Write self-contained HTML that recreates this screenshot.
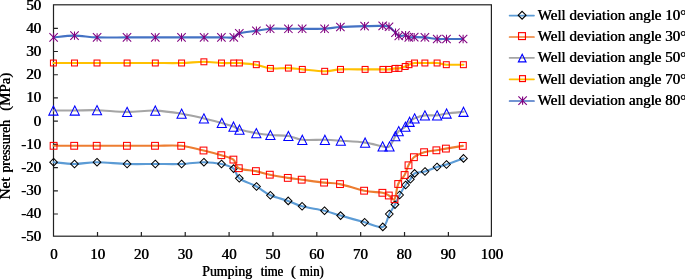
<!DOCTYPE html>
<html><head><meta charset="utf-8"><title>Net pressure chart</title>
<style>html,body{margin:0;padding:0;background:#fff}body{width:685px;height:279px;overflow:hidden}</style></head>
<body>
<svg width="685" height="279" viewBox="0 0 685 279" style="display:block">
<rect width="685" height="279" fill="#fff"/>
<g stroke="#222" stroke-width="1.2" fill="none">
<rect x="53.5" y="4.8" width="437.9" height="231.4"/>
<path d="M53.5,28.31 h4.4 M53.5,51.52 h4.4 M53.5,74.73 h4.4 M53.5,97.94 h4.4 M53.5,121.15 h4.4 M53.5,144.36 h4.4 M53.5,167.57 h4.4 M53.5,190.78 h4.4 M53.5,213.99 h4.4 M97.51,236.2 v-4.1 M141.37,236.2 v-4.1 M185.23,236.2 v-4.1 M229.09,236.2 v-4.1 M272.95,236.2 v-4.1 M316.81,236.2 v-4.1 M360.67,236.2 v-4.1 M404.53,236.2 v-4.1 M448.39,236.2 v-4.1"/>
</g>
<path d="M53.60,162.20 C57.08,162.50 67.27,164.00 74.50,164.00 C81.73,164.00 88.23,162.20 97.00,162.20 C105.77,162.20 117.38,163.70 127.10,164.00 C136.82,164.30 146.22,164.00 155.30,164.00 C164.38,164.00 173.50,164.30 181.60,164.00 C189.70,163.70 197.25,162.20 203.90,162.20 C210.55,162.20 216.55,162.93 221.50,164.00 C226.45,165.07 230.63,166.22 233.60,168.60 C236.57,170.98 235.48,175.32 239.30,178.30 C243.12,181.28 251.32,183.67 256.50,186.50 C261.68,189.33 265.12,192.90 270.40,195.30 C275.68,197.70 282.92,199.07 288.20,200.90 C293.48,202.73 296.05,204.67 302.10,206.30 C308.15,207.93 318.08,209.15 324.50,210.70 C330.92,212.25 333.90,213.67 340.60,215.60 C347.30,217.53 357.67,220.42 364.70,222.30 C371.73,224.18 378.70,228.28 382.80,226.90 C386.90,225.52 387.27,217.72 389.30,214.00 C391.33,210.28 393.28,207.77 395.00,204.60 C396.72,201.43 397.83,198.27 399.60,195.00 C401.37,191.73 403.80,187.62 405.60,185.00 C407.40,182.38 408.90,181.23 410.40,179.30 C411.90,177.37 412.17,174.70 414.60,173.40 C417.03,172.10 421.27,172.57 425.00,171.50 C428.73,170.43 433.42,168.17 437.00,167.00 C440.58,165.83 442.08,165.93 446.50,164.50 C450.92,163.07 460.67,159.42 463.50,158.40" fill="none" stroke="#5B9BD5" stroke-width="2.10" stroke-linejoin="round" stroke-linecap="round"/>
<g fill="none" stroke="#000" stroke-width="1.05">
<path d="M53.60,158.40 l3.80,3.80 l-3.80,3.80 l-3.80,-3.80 z"/>
<path d="M74.50,160.20 l3.80,3.80 l-3.80,3.80 l-3.80,-3.80 z"/>
<path d="M97.00,158.40 l3.80,3.80 l-3.80,3.80 l-3.80,-3.80 z"/>
<path d="M127.10,160.20 l3.80,3.80 l-3.80,3.80 l-3.80,-3.80 z"/>
<path d="M155.30,160.20 l3.80,3.80 l-3.80,3.80 l-3.80,-3.80 z"/>
<path d="M181.60,160.20 l3.80,3.80 l-3.80,3.80 l-3.80,-3.80 z"/>
<path d="M203.90,158.40 l3.80,3.80 l-3.80,3.80 l-3.80,-3.80 z"/>
<path d="M221.50,160.20 l3.80,3.80 l-3.80,3.80 l-3.80,-3.80 z"/>
<path d="M233.60,164.80 l3.80,3.80 l-3.80,3.80 l-3.80,-3.80 z"/>
<path d="M239.30,174.50 l3.80,3.80 l-3.80,3.80 l-3.80,-3.80 z"/>
<path d="M256.50,182.70 l3.80,3.80 l-3.80,3.80 l-3.80,-3.80 z"/>
<path d="M270.40,191.50 l3.80,3.80 l-3.80,3.80 l-3.80,-3.80 z"/>
<path d="M288.20,197.10 l3.80,3.80 l-3.80,3.80 l-3.80,-3.80 z"/>
<path d="M302.10,202.50 l3.80,3.80 l-3.80,3.80 l-3.80,-3.80 z"/>
<path d="M324.50,206.90 l3.80,3.80 l-3.80,3.80 l-3.80,-3.80 z"/>
<path d="M340.60,211.80 l3.80,3.80 l-3.80,3.80 l-3.80,-3.80 z"/>
<path d="M364.70,218.50 l3.80,3.80 l-3.80,3.80 l-3.80,-3.80 z"/>
<path d="M382.80,223.10 l3.80,3.80 l-3.80,3.80 l-3.80,-3.80 z"/>
<path d="M389.30,210.20 l3.80,3.80 l-3.80,3.80 l-3.80,-3.80 z"/>
<path d="M395.00,200.80 l3.80,3.80 l-3.80,3.80 l-3.80,-3.80 z"/>
<path d="M399.60,191.20 l3.80,3.80 l-3.80,3.80 l-3.80,-3.80 z"/>
<path d="M405.60,181.20 l3.80,3.80 l-3.80,3.80 l-3.80,-3.80 z"/>
<path d="M410.40,175.50 l3.80,3.80 l-3.80,3.80 l-3.80,-3.80 z"/>
<path d="M414.60,169.60 l3.80,3.80 l-3.80,3.80 l-3.80,-3.80 z"/>
<path d="M425.00,167.70 l3.80,3.80 l-3.80,3.80 l-3.80,-3.80 z"/>
<path d="M437.00,163.20 l3.80,3.80 l-3.80,3.80 l-3.80,-3.80 z"/>
<path d="M446.50,160.70 l3.80,3.80 l-3.80,3.80 l-3.80,-3.80 z"/>
<path d="M463.50,154.60 l3.80,3.80 l-3.80,3.80 l-3.80,-3.80 z"/>
</g>
<path d="M53.60,145.80 C57.03,145.80 67.02,145.80 74.20,145.80 C81.38,145.80 87.92,145.80 96.70,145.80 C105.48,145.80 117.18,145.80 126.90,145.80 C136.62,145.80 145.95,145.80 155.00,145.80 C164.05,145.80 173.12,145.02 181.20,145.80 C189.28,146.58 196.82,148.93 203.50,150.50 C210.18,152.07 216.32,153.68 221.30,155.20 C226.28,156.72 230.48,157.43 233.40,159.60 C236.32,161.77 235.05,166.28 238.80,168.20 C242.55,170.12 250.73,170.02 255.90,171.10 C261.07,172.18 264.48,173.57 269.80,174.70 C275.12,175.83 282.48,177.07 287.80,177.90 C293.12,178.73 295.65,178.92 301.70,179.70 C307.75,180.48 317.72,181.87 324.10,182.60 C330.48,183.33 333.33,182.75 340.00,184.10 C346.67,185.45 357.03,189.25 364.10,190.70 C371.17,192.15 378.28,192.00 382.40,192.80 C386.52,193.60 386.78,194.43 388.80,195.50 C390.82,196.57 392.93,201.12 394.50,199.20 C396.07,197.28 396.52,188.03 398.20,184.00 C399.88,179.97 402.88,178.12 404.60,175.00 C406.32,171.88 406.95,168.27 408.50,165.30 C410.05,162.33 411.30,159.38 413.90,157.20 C416.50,155.02 420.35,153.35 424.10,152.20 C427.85,151.05 432.77,150.90 436.40,150.30 C440.03,149.70 441.50,149.33 445.90,148.60 C450.30,147.87 459.98,146.35 462.80,145.90" fill="none" stroke="#ED7D31" stroke-width="2.10" stroke-linejoin="round" stroke-linecap="round"/>
<g fill="none" stroke="#FF0000" stroke-width="1.05">
<rect x="50.20" y="142.40" width="6.80" height="6.80"/>
<rect x="70.80" y="142.40" width="6.80" height="6.80"/>
<rect x="93.30" y="142.40" width="6.80" height="6.80"/>
<rect x="123.50" y="142.40" width="6.80" height="6.80"/>
<rect x="151.60" y="142.40" width="6.80" height="6.80"/>
<rect x="177.80" y="142.40" width="6.80" height="6.80"/>
<rect x="200.10" y="147.10" width="6.80" height="6.80"/>
<rect x="217.90" y="151.80" width="6.80" height="6.80"/>
<rect x="230.00" y="156.20" width="6.80" height="6.80"/>
<rect x="235.40" y="164.80" width="6.80" height="6.80"/>
<rect x="252.50" y="167.70" width="6.80" height="6.80"/>
<rect x="266.40" y="171.30" width="6.80" height="6.80"/>
<rect x="284.40" y="174.50" width="6.80" height="6.80"/>
<rect x="298.30" y="176.30" width="6.80" height="6.80"/>
<rect x="320.70" y="179.20" width="6.80" height="6.80"/>
<rect x="336.60" y="180.70" width="6.80" height="6.80"/>
<rect x="360.70" y="187.30" width="6.80" height="6.80"/>
<rect x="379.00" y="189.40" width="6.80" height="6.80"/>
<rect x="385.40" y="192.10" width="6.80" height="6.80"/>
<rect x="391.10" y="195.80" width="6.80" height="6.80"/>
<rect x="394.80" y="180.60" width="6.80" height="6.80"/>
<rect x="401.20" y="171.60" width="6.80" height="6.80"/>
<rect x="405.10" y="161.90" width="6.80" height="6.80"/>
<rect x="410.50" y="153.80" width="6.80" height="6.80"/>
<rect x="420.70" y="148.80" width="6.80" height="6.80"/>
<rect x="433.00" y="146.90" width="6.80" height="6.80"/>
<rect x="442.50" y="145.20" width="6.80" height="6.80"/>
<rect x="459.40" y="142.50" width="6.80" height="6.80"/>
</g>
<path d="M53.40,110.50 C56.97,110.50 67.53,110.55 74.80,110.50 C82.07,110.45 88.28,109.97 97.00,110.20 C105.72,110.43 117.38,111.83 127.10,111.90 C136.82,111.97 146.22,110.30 155.30,110.60 C164.38,110.90 173.50,112.40 181.60,113.70 C189.70,115.00 197.20,116.87 203.90,118.40 C210.60,119.93 216.87,121.53 221.80,122.90 C226.73,124.27 230.55,125.48 233.50,126.60 C236.45,127.72 235.70,128.50 239.50,129.60 C243.30,130.70 251.15,132.30 256.30,133.20 C261.45,134.10 265.05,134.53 270.40,135.00 C275.75,135.47 283.08,135.20 288.40,136.00 C293.72,136.80 296.22,139.17 302.30,139.80 C308.38,140.43 318.48,139.65 324.90,139.80 C331.32,139.95 334.10,140.23 340.80,140.70 C347.50,141.17 358.13,141.65 365.10,142.60 C372.07,143.55 378.53,145.77 382.60,146.40 C386.67,147.03 387.38,148.10 389.50,146.40 C391.62,144.70 393.77,138.73 395.30,136.20 C396.83,133.67 397.02,132.78 398.70,131.20 C400.38,129.62 403.58,128.27 405.40,126.70 C407.22,125.13 408.07,123.18 409.60,121.80 C411.13,120.42 412.05,119.47 414.60,118.40 C417.15,117.33 421.15,115.90 424.90,115.40 C428.65,114.90 433.48,115.72 437.10,115.40 C440.72,115.08 442.20,114.10 446.60,113.50 C451.00,112.90 460.68,112.08 463.50,111.80" fill="none" stroke="#A5A5A5" stroke-width="2.10" stroke-linejoin="round" stroke-linecap="round"/>
<g fill="none" stroke="#0000FF" stroke-width="1.05">
<path d="M53.40,105.90 l4.60,9.20 l-9.20,0 z"/>
<path d="M74.80,105.90 l4.60,9.20 l-9.20,0 z"/>
<path d="M97.00,105.60 l4.60,9.20 l-9.20,0 z"/>
<path d="M127.10,107.30 l4.60,9.20 l-9.20,0 z"/>
<path d="M155.30,106.00 l4.60,9.20 l-9.20,0 z"/>
<path d="M181.60,109.10 l4.60,9.20 l-9.20,0 z"/>
<path d="M203.90,113.80 l4.60,9.20 l-9.20,0 z"/>
<path d="M221.80,118.30 l4.60,9.20 l-9.20,0 z"/>
<path d="M233.50,122.00 l4.60,9.20 l-9.20,0 z"/>
<path d="M239.50,125.00 l4.60,9.20 l-9.20,0 z"/>
<path d="M256.30,128.60 l4.60,9.20 l-9.20,0 z"/>
<path d="M270.40,130.40 l4.60,9.20 l-9.20,0 z"/>
<path d="M288.40,131.40 l4.60,9.20 l-9.20,0 z"/>
<path d="M302.30,135.20 l4.60,9.20 l-9.20,0 z"/>
<path d="M324.90,135.20 l4.60,9.20 l-9.20,0 z"/>
<path d="M340.80,136.10 l4.60,9.20 l-9.20,0 z"/>
<path d="M365.10,138.00 l4.60,9.20 l-9.20,0 z"/>
<path d="M382.60,141.80 l4.60,9.20 l-9.20,0 z"/>
<path d="M389.50,141.80 l4.60,9.20 l-9.20,0 z"/>
<path d="M395.30,131.60 l4.60,9.20 l-9.20,0 z"/>
<path d="M398.70,126.60 l4.60,9.20 l-9.20,0 z"/>
<path d="M405.40,122.10 l4.60,9.20 l-9.20,0 z"/>
<path d="M409.60,117.20 l4.60,9.20 l-9.20,0 z"/>
<path d="M414.60,113.80 l4.60,9.20 l-9.20,0 z"/>
<path d="M424.90,110.80 l4.60,9.20 l-9.20,0 z"/>
<path d="M437.10,110.80 l4.60,9.20 l-9.20,0 z"/>
<path d="M446.60,108.90 l4.60,9.20 l-9.20,0 z"/>
<path d="M463.50,107.20 l4.60,9.20 l-9.20,0 z"/>
</g>
<path d="M53.40,63.00 C56.92,63.00 67.23,63.00 74.50,63.00 C81.77,63.00 88.23,63.00 97.00,63.00 C105.77,63.00 117.38,63.00 127.10,63.00 C136.82,63.00 146.22,63.00 155.30,63.00 C164.38,63.00 173.50,63.20 181.60,63.00 C189.70,62.80 197.25,61.80 203.90,61.80 C210.55,61.80 216.53,62.80 221.50,63.00 C226.47,63.20 230.72,63.00 233.70,63.00 C236.68,63.00 235.63,62.72 239.40,63.00 C243.17,63.28 251.13,63.80 256.30,64.70 C261.47,65.60 265.05,67.83 270.40,68.40 C275.75,68.97 283.08,67.93 288.40,68.10 C293.72,68.27 296.25,68.87 302.30,69.40 C308.35,69.93 318.33,71.30 324.70,71.30 C331.07,71.30 333.77,69.72 340.50,69.40 C347.23,69.08 358.03,69.40 365.10,69.40 C372.17,69.40 378.95,69.40 382.90,69.40 C386.85,69.40 386.78,69.57 388.80,69.40 C390.82,69.23 393.32,68.57 395.00,68.40 C396.68,68.23 397.20,68.72 398.90,68.40 C400.60,68.08 403.52,67.12 405.20,66.50 C406.88,65.88 407.45,65.28 409.00,64.70 C410.55,64.12 411.85,63.28 414.50,63.00 C417.15,62.72 421.13,63.00 424.90,63.00 C428.67,63.00 433.53,62.72 437.10,63.00 C440.67,63.28 441.92,64.42 446.30,64.70 C450.68,64.98 460.55,64.70 463.40,64.70" fill="none" stroke="#FFC000" stroke-width="2.10" stroke-linejoin="round" stroke-linecap="round"/>
<g fill="none" stroke="#FF0000" stroke-width="1.05">
<rect x="50.45" y="60.05" width="5.90" height="5.90"/>
<rect x="71.55" y="60.05" width="5.90" height="5.90"/>
<rect x="94.05" y="60.05" width="5.90" height="5.90"/>
<rect x="124.15" y="60.05" width="5.90" height="5.90"/>
<rect x="152.35" y="60.05" width="5.90" height="5.90"/>
<rect x="178.65" y="60.05" width="5.90" height="5.90"/>
<rect x="200.95" y="58.85" width="5.90" height="5.90"/>
<rect x="218.55" y="60.05" width="5.90" height="5.90"/>
<rect x="230.75" y="60.05" width="5.90" height="5.90"/>
<rect x="236.45" y="60.05" width="5.90" height="5.90"/>
<rect x="253.35" y="61.75" width="5.90" height="5.90"/>
<rect x="267.45" y="65.45" width="5.90" height="5.90"/>
<rect x="285.45" y="65.15" width="5.90" height="5.90"/>
<rect x="299.35" y="66.45" width="5.90" height="5.90"/>
<rect x="321.75" y="68.35" width="5.90" height="5.90"/>
<rect x="337.55" y="66.45" width="5.90" height="5.90"/>
<rect x="362.15" y="66.45" width="5.90" height="5.90"/>
<rect x="379.95" y="66.45" width="5.90" height="5.90"/>
<rect x="385.85" y="66.45" width="5.90" height="5.90"/>
<rect x="392.05" y="65.45" width="5.90" height="5.90"/>
<rect x="395.95" y="65.45" width="5.90" height="5.90"/>
<rect x="402.25" y="63.55" width="5.90" height="5.90"/>
<rect x="406.05" y="61.75" width="5.90" height="5.90"/>
<rect x="411.55" y="60.05" width="5.90" height="5.90"/>
<rect x="421.95" y="60.05" width="5.90" height="5.90"/>
<rect x="434.15" y="60.05" width="5.90" height="5.90"/>
<rect x="443.35" y="61.75" width="5.90" height="5.90"/>
<rect x="460.45" y="61.75" width="5.90" height="5.90"/>
</g>
<path d="M53.60,37.40 C57.08,37.10 67.25,35.60 74.50,35.60 C81.75,35.60 88.35,37.10 97.10,37.40 C105.85,37.70 117.30,37.40 127.00,37.40 C136.70,37.40 146.22,37.40 155.30,37.40 C164.38,37.40 173.37,37.40 181.50,37.40 C189.63,37.40 197.45,37.40 204.10,37.40 C210.75,37.40 216.45,37.40 221.40,37.40 C226.35,37.40 230.82,38.08 233.80,37.40 C236.78,36.72 235.53,34.40 239.30,33.30 C243.07,32.20 251.25,31.55 256.40,30.80 C261.55,30.05 264.87,29.13 270.20,28.80 C275.53,28.47 283.07,28.80 288.40,28.80 C293.73,28.80 296.17,28.80 302.20,28.80 C308.23,28.80 318.23,29.10 324.60,28.80 C330.97,28.50 333.73,27.45 340.40,27.00 C347.07,26.55 357.55,26.28 364.60,26.10 C371.65,25.92 378.63,25.78 382.70,25.90 C386.77,26.02 386.87,25.67 389.00,26.80 C391.13,27.93 393.87,31.17 395.50,32.70 C397.13,34.23 397.12,35.57 398.80,36.00 C400.48,36.43 403.93,35.07 405.60,35.30 C407.27,35.53 407.37,37.10 408.80,37.40 C410.23,37.70 411.52,37.10 414.20,37.10 C416.88,37.10 421.07,37.08 424.90,37.40 C428.73,37.72 433.60,38.73 437.20,39.00 C440.80,39.27 442.18,39.00 446.50,39.00 C450.82,39.00 460.33,39.00 463.10,39.00" fill="none" stroke="#4472C4" stroke-width="2.10" stroke-linejoin="round" stroke-linecap="round"/>
<g fill="none" stroke="#800080" stroke-width="1.05">
<path d="M49.40,33.20 l8.40,8.40 M49.40,41.60 l8.40,-8.40 M53.60,33.20 v8.40"/>
<path d="M70.30,31.40 l8.40,8.40 M70.30,39.80 l8.40,-8.40 M74.50,31.40 v8.40"/>
<path d="M92.90,33.20 l8.40,8.40 M92.90,41.60 l8.40,-8.40 M97.10,33.20 v8.40"/>
<path d="M122.80,33.20 l8.40,8.40 M122.80,41.60 l8.40,-8.40 M127.00,33.20 v8.40"/>
<path d="M151.10,33.20 l8.40,8.40 M151.10,41.60 l8.40,-8.40 M155.30,33.20 v8.40"/>
<path d="M177.30,33.20 l8.40,8.40 M177.30,41.60 l8.40,-8.40 M181.50,33.20 v8.40"/>
<path d="M199.90,33.20 l8.40,8.40 M199.90,41.60 l8.40,-8.40 M204.10,33.20 v8.40"/>
<path d="M217.20,33.20 l8.40,8.40 M217.20,41.60 l8.40,-8.40 M221.40,33.20 v8.40"/>
<path d="M229.60,33.20 l8.40,8.40 M229.60,41.60 l8.40,-8.40 M233.80,33.20 v8.40"/>
<path d="M235.10,29.10 l8.40,8.40 M235.10,37.50 l8.40,-8.40 M239.30,29.10 v8.40"/>
<path d="M252.20,26.60 l8.40,8.40 M252.20,35.00 l8.40,-8.40 M256.40,26.60 v8.40"/>
<path d="M266.00,24.60 l8.40,8.40 M266.00,33.00 l8.40,-8.40 M270.20,24.60 v8.40"/>
<path d="M284.20,24.60 l8.40,8.40 M284.20,33.00 l8.40,-8.40 M288.40,24.60 v8.40"/>
<path d="M298.00,24.60 l8.40,8.40 M298.00,33.00 l8.40,-8.40 M302.20,24.60 v8.40"/>
<path d="M320.40,24.60 l8.40,8.40 M320.40,33.00 l8.40,-8.40 M324.60,24.60 v8.40"/>
<path d="M336.20,22.80 l8.40,8.40 M336.20,31.20 l8.40,-8.40 M340.40,22.80 v8.40"/>
<path d="M360.40,21.90 l8.40,8.40 M360.40,30.30 l8.40,-8.40 M364.60,21.90 v8.40"/>
<path d="M378.50,21.70 l8.40,8.40 M378.50,30.10 l8.40,-8.40 M382.70,21.70 v8.40"/>
<path d="M384.80,22.60 l8.40,8.40 M384.80,31.00 l8.40,-8.40 M389.00,22.60 v8.40"/>
<path d="M391.30,28.50 l8.40,8.40 M391.30,36.90 l8.40,-8.40 M395.50,28.50 v8.40"/>
<path d="M394.60,31.80 l8.40,8.40 M394.60,40.20 l8.40,-8.40 M398.80,31.80 v8.40"/>
<path d="M401.40,31.10 l8.40,8.40 M401.40,39.50 l8.40,-8.40 M405.60,31.10 v8.40"/>
<path d="M404.60,33.20 l8.40,8.40 M404.60,41.60 l8.40,-8.40 M408.80,33.20 v8.40"/>
<path d="M410.00,32.90 l8.40,8.40 M410.00,41.30 l8.40,-8.40 M414.20,32.90 v8.40"/>
<path d="M420.70,33.20 l8.40,8.40 M420.70,41.60 l8.40,-8.40 M424.90,33.20 v8.40"/>
<path d="M433.00,34.80 l8.40,8.40 M433.00,43.20 l8.40,-8.40 M437.20,34.80 v8.40"/>
<path d="M442.30,34.80 l8.40,8.40 M442.30,43.20 l8.40,-8.40 M446.50,34.80 v8.40"/>
<path d="M458.90,34.80 l8.40,8.40 M458.90,43.20 l8.40,-8.40 M463.10,34.80 v8.40"/>
</g>
<g font-family="'Liberation Serif', 'Times New Roman', serif" font-size="15" fill="#000" stroke="none" style="text-shadow:0.5px 0 0 #000">
<text transform="translate(41.1,9.75) scale(1,0.96)" text-anchor="end">50</text>
<text transform="translate(41.1,32.90) scale(1,0.96)" text-anchor="end">40</text>
<text transform="translate(41.1,56.05) scale(1,0.96)" text-anchor="end">30</text>
<text transform="translate(41.1,79.20) scale(1,0.96)" text-anchor="end">20</text>
<text transform="translate(41.1,102.35) scale(1,0.96)" text-anchor="end">10</text>
<text transform="translate(41.1,125.50) scale(1,0.96)" text-anchor="end">0</text>
<text transform="translate(41.1,148.65) scale(1,0.96)" text-anchor="end">-10</text>
<text transform="translate(41.1,171.80) scale(1,0.96)" text-anchor="end">-20</text>
<text transform="translate(41.1,194.95) scale(1,0.96)" text-anchor="end">-30</text>
<text transform="translate(41.1,218.10) scale(1,0.96)" text-anchor="end">-40</text>
<text transform="translate(41.1,241.25) scale(1,0.96)" text-anchor="end">-50</text>
<text transform="translate(53.8,258.7) scale(1,0.96)" text-anchor="middle">0</text>
<text transform="translate(97.5,258.7) scale(1,0.96)" text-anchor="middle">10</text>
<text transform="translate(141.3,258.7) scale(1,0.96)" text-anchor="middle">20</text>
<text transform="translate(185.1,258.7) scale(1,0.96)" text-anchor="middle">30</text>
<text transform="translate(228.9,258.7) scale(1,0.96)" text-anchor="middle">40</text>
<text transform="translate(272.7,258.7) scale(1,0.96)" text-anchor="middle">50</text>
<text transform="translate(316.5,258.7) scale(1,0.96)" text-anchor="middle">60</text>
<text transform="translate(360.3,258.7) scale(1,0.96)" text-anchor="middle">70</text>
<text transform="translate(404.1,258.7) scale(1,0.96)" text-anchor="middle">80</text>
<text transform="translate(447.9,258.7) scale(1,0.96)" text-anchor="middle">90</text>
<text transform="translate(491.7,258.7) scale(1,0.96)" text-anchor="middle">100</text>
<text transform="translate(0,275.5) scale(1,0.96)"><tspan x="202" textLength="50" lengthAdjust="spacingAndGlyphs">Pumping</tspan> <tspan x="260.5" textLength="22.6" lengthAdjust="spacingAndGlyphs">time</tspan> <tspan x="290.7">(</tspan> <tspan x="299.5" textLength="24.1" lengthAdjust="spacingAndGlyphs">min)</tspan></text>
<text transform="translate(10.3,199.8) rotate(-90) scale(1,0.96)" xml:space="preserve"><tspan x="0" textLength="22.3" lengthAdjust="spacingAndGlyphs">Net</tspan><tspan> </tspan><tspan x="27" textLength="52.7" lengthAdjust="spacingAndGlyphs">pressureh</tspan><tspan>  </tspan><tspan x="88.7" textLength="38.2" lengthAdjust="spacingAndGlyphs">(MPa)</tspan></text>
<path d="M509.6,15.60 H534.0" stroke="#5B9BD5" stroke-width="1.7" stroke-linecap="round" fill="none"/>
<g fill="none" stroke="#000" stroke-width="1.15"><path d="M522.10,11.30 l3.90,3.90 l-3.90,3.90 l-3.90,-3.90 z"/></g>
<text transform="translate(537.6,19.8) scale(1,0.96)">Well deviation angle 10°</text>
<path d="M509.6,37.00 H534.0" stroke="#ED7D31" stroke-width="1.7" stroke-linecap="round" fill="none"/>
<g fill="none" stroke="#FF0000" stroke-width="1.15"><rect x="518.55" y="32.65" width="6.90" height="6.90"/></g>
<text transform="translate(537.6,41.2) scale(1,0.96)">Well deviation angle 30°</text>
<path d="M509.6,57.80 H534.0" stroke="#A5A5A5" stroke-width="1.7" stroke-linecap="round" fill="none"/>
<g fill="none" stroke="#0000FF" stroke-width="1.15"><path d="M522.20,54.30 l3.80,7.60 l-7.60,0 z"/></g>
<text transform="translate(537.6,62.0) scale(1,0.96)">Well deviation angle 50°</text>
<path d="M509.6,79.30 H534.0" stroke="#FFC000" stroke-width="1.7" stroke-linecap="round" fill="none"/>
<g fill="none" stroke="#FF0000" stroke-width="1.15"><rect x="519.55" y="75.65" width="5.90" height="5.90"/></g>
<text transform="translate(537.6,83.5) scale(1,0.96)">Well deviation angle 70°</text>
<path d="M509.6,101.00 H534.0" stroke="#4472C4" stroke-width="1.7" stroke-linecap="round" fill="none"/>
<g fill="none" stroke="#800080" stroke-width="1.15"><path d="M518.40,96.45 l8.40,8.40 M518.40,104.85 l8.40,-8.40 M522.60,96.45 v8.40"/></g>
<text transform="translate(537.6,105.2) scale(1,0.96)">Well deviation angle 80°</text>
</g>
</svg>
</body></html>
